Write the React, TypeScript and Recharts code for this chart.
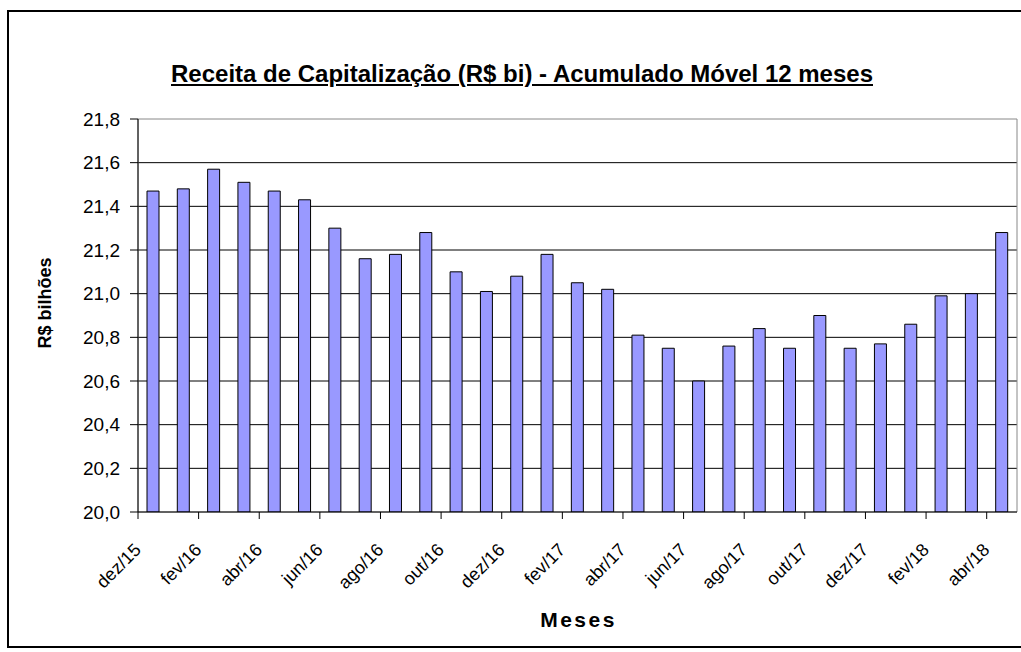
import React from 'react';
import { BarChart, Bar, XAxis, YAxis, CartesianGrid, ReferenceArea } from 'recharts';

// meses (dez/15 .. abr/18) e receita acumulada 12 meses, R$ bi
const months = [
  'dez/15', 'jan/16', 'fev/16', 'mar/16', 'abr/16', 'mai/16', 'jun/16', 'jul/16',
  'ago/16', 'set/16', 'out/16', 'nov/16', 'dez/16', 'jan/17', 'fev/17', 'mar/17',
  'abr/17', 'mai/17', 'jun/17', 'jul/17', 'ago/17', 'set/17', 'out/17', 'nov/17',
  'dez/17', 'jan/18', 'fev/18', 'mar/18', 'abr/18',
];
const receita = [
  21.47, 21.48, 21.57, 21.51, 21.47, 21.43, 21.30, 21.16,
  21.18, 21.28, 21.10, 21.01, 21.08, 21.18, 21.05, 21.02,
  20.81, 20.75, 20.60, 20.76, 20.84, 20.75, 20.90, 20.75,
  20.77, 20.86, 20.99, 21.00, 21.28,
];
const yTicks = [20, 20.2, 20.4, 20.6, 20.8, 21, 21.2, 21.4, 21.6, 21.8];

const data = months.map((m, i) => ({ mes: m, valor: receita[i] }));

const W = 1021;
const H = 652;
const PLOT_L = 138;
const PLOT_R = 1017;
const PLOT_T = 119;
const PLOT_B = 512;
const BAND = (PLOT_R - PLOT_L) / months.length;
const FONT = '"Liberation Sans", Arial, sans-serif';

const fmt = (v: number) => v.toFixed(1).replace('.', ',');

// Excel-like category tick: mark on the boundary, label rotated 45°
const MonthTick = (props: any) => {
  const { x, y, payload } = props;
  const tx = x - BAND / 2;
  const ax = tx + 4;
  const ay = y + 39;
  return (
    <g>
      <line x1={tx} y1={y} x2={tx} y2={y + 7} stroke="#000" />
      <text
        x={ax}
        y={ay}
        textAnchor="end"
        transform={`rotate(-45 ${ax} ${ay})`}
        fontSize={18}
        fill="#000"
        fontFamily={FONT}
      >
        {payload.value}
      </text>
    </g>
  );
};

export default function App() {
  return (
    <div style={{ position: 'absolute', left: 0, top: 0, width: W, height: H, overflow: 'hidden', background: '#fff', fontFamily: FONT }}>
      <div style={{ position: 'absolute', left: 7, top: 10, width: 1040, height: 634, border: '2px solid #000' }} />
      <div style={{ position: 'absolute', left: 7, width: 1030, top: 60, textAlign: 'center', fontSize: 24, fontWeight: 'bold', textDecoration: 'underline', color: '#000' }}>
        Receita de Capitalização (R$ bi) - Acumulado Móvel 12 meses
      </div>
      <div style={{ position: 'absolute', left: 45, top: 303, transform: 'translate(-50%, -50%) rotate(-90deg)', fontSize: 18, fontWeight: 'bold', whiteSpace: 'nowrap', color: '#000' }}>
        R$ bilhões
      </div>
      <div style={{ position: 'absolute', left: (PLOT_L + PLOT_R) / 2 + 1, top: 620, transform: 'translate(-50%, -50%)', fontSize: 21, fontWeight: 'bold', letterSpacing: 2.5, whiteSpace: 'nowrap', color: '#000' }}>
        Meses
      </div>
      <div style={{ position: 'absolute', left: 0, top: 0 }}>
        <BarChart width={W} height={H} data={data} margin={{ top: PLOT_T, right: W - PLOT_R, bottom: H - PLOT_B - 60, left: PLOT_L - 60 }}>
          <CartesianGrid vertical={false} stroke="#000" horizontalValues={yTicks.slice(1, -1)} />
          <ReferenceArea y1={20} y2={21.8} fill="none" stroke="#888" ifOverflow="visible" />
          <XAxis
            dataKey="mes"
            interval={1}
            height={60}
            tickLine={false}
            tickSize={0}
            tickMargin={0}
            tick={<MonthTick />}
            axisLine={{ stroke: '#000' }}
          />
          <YAxis
            width={60}
            domain={[20, 21.8]}
            ticks={yTicks}
            allowDataOverflow
            tickFormatter={fmt}
            tickSize={8}
            tickMargin={10}
            tickLine={{ stroke: '#000' }}
            axisLine={{ stroke: '#000' }}
            tick={{ fill: '#000', fontSize: 19, fontFamily: FONT }}
          />
          <Bar dataKey="valor" fill="#9999FF" stroke="#000" strokeWidth={1} barSize={12} isAnimationActive={false} />
        </BarChart>
      </div>
    </div>
  );
}
